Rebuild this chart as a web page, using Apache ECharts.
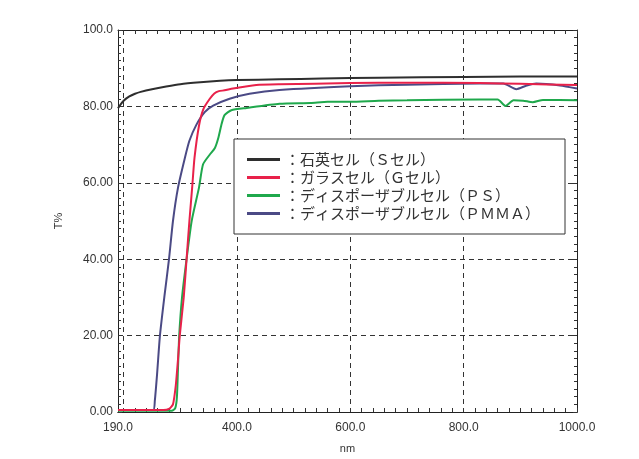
<!DOCTYPE html>
<html>
<head>
<meta charset="utf-8">
<script src="https://cdn.jsdelivr.net/npm/echarts@6/dist/echarts.min.js"></script>
<style>
html,body{margin:0;padding:0;background:#fff;overflow:hidden;}
#c{width:639px;height:459px;}
</style>
</head>
<body>
<div id="c"></div>
<script>
// ---- data (wavelength nm, transmittance %) ----
const seriesNames = ['石英セル（Ｓセル）', 'ガラスセル（Ｇセル）', 'ディスポーザブルセル（ＰＳ）', 'ディスポーザブルセル（ＰＭＭＡ）'];

const quartzNm = [190, 195, 200, 210, 220, 230, 250, 275, 300, 335, 370, 400, 475, 550, 650, 800, 900, 1000];
const quartzT  = [79.5, 80.6, 81.5, 82.6, 83.3, 83.8, 84.5, 85.2, 85.8, 86.3, 86.7, 86.9, 87.1, 87.3, 87.5, 87.7, 87.8, 87.8];

const glassNm = [190, 270, 280, 287, 292, 296, 299, 306, 311, 316, 321, 325, 333, 341, 352, 360, 368, 378, 393, 434, 475, 600, 700, 828, 900, 1000];
const glassT  = [0.5, 0.5, 0.8, 2.0, 7.0, 14.0, 20.0, 30.0, 40.0, 50.0, 59.0, 66.5, 75.0, 79.4, 82.0, 83.4, 84.0, 84.2, 84.7, 85.6, 85.8, 86.1, 86.2, 86.1, 85.9, 85.6];

const psNm = [190, 285, 291, 294, 296, 298, 303, 311, 320, 333, 340, 352, 361, 367, 373, 378, 390, 417, 475, 530, 560, 600, 650, 700, 828, 860, 874, 888, 905, 922, 940, 1000];
const psT  = [0.3, 0.3, 1.0, 4.0, 12.0, 20.0, 30.0, 40.0, 50.0, 58.8, 64.8, 67.4, 69.1, 71.7, 75.5, 77.7, 79.0, 79.6, 80.7, 80.9, 81.2, 81.2, 81.5, 81.6, 81.8, 81.8, 80.1, 81.6, 81.5, 81.1, 81.7, 81.6];

const pmmaNm = [190, 252, 255, 259, 264, 272, 280, 287, 296, 308, 316, 328, 343, 358, 387, 422, 475, 600, 700, 828, 870, 893, 910, 928, 970, 1000];
const pmmaT  = [0.5, 0.5, 3.0, 10.0, 20.0, 30.4, 40.0, 50.0, 58.8, 66.5, 71.0, 75.1, 78.5, 80.2, 82.0, 83.3, 84.3, 85.3, 85.7, 86.0, 86.0, 84.5, 85.4, 86.0, 85.5, 84.7];

const xLabelValues = [190, 400, 600, 800, 1000];
const xGridValues = [200, 400, 600, 800];
const xMinorValues = [];
for (let v = 200; v <= 1000; v += 20) xMinorValues.push(v);

const zip = (a, b) => a.map((v, i) => [v, b[i]]);

const colors = ['#2e2e2e', '#e8214a', '#1fa84c', '#4b4a85'];
const dash = [5, 4];
const font = '"Liberation Sans", Arial, sans-serif';

const chart = echarts.init(document.getElementById('c'), null, {renderer: 'canvas', width: 639, height: 459});

const tickAxisBase = {
  type: 'value', min: 190, max: 1000, gridIndex: 0,
  axisLabel: {show: false}, splitLine: {show: false},
  axisTick: {show: true, inside: true, length: 4, customValues: xMinorValues, lineStyle: {color: '#333'}},
  axisLine: {show: true, lineStyle: {color: '#222', width: 1}}
};

const mkSeries = (i, nm, t, z) => ({
  name: seriesNames[i], type: 'line', xAxisIndex: 0, yAxisIndex: 0,
  data: zip(nm, t), symbol: 'none', showSymbol: false, smooth: 0.2,
  lineStyle: {color: colors[i], width: 2}, itemStyle: {color: colors[i]}, z: z
});

chart.setOption({
  animation: false,
  backgroundColor: '#fff',
  grid: {left: 118, width: 459, top: 30, height: 388, containLabel: false},
  legend: {
    orient: 'vertical', left: 234, top: 139,
    data: seriesNames,
    icon: 'rect', itemWidth: 33, itemHeight: 3,
    backgroundColor: '#fff', borderColor: '#333', borderWidth: 1,
    padding: [12, 25, 12, 13], itemGap: 1,
    formatter: n => '：' + n,
    textStyle: {fontSize: 15, lineHeight: 17, color: '#333', fontFamily: '"Noto Sans CJK JP", sans-serif'},
    z: 20
  },
  xAxis: [
    {
      type: 'value', min: 190, max: 1000, position: 'bottom',
      name: 'nm', nameLocation: 'middle', nameGap: 31,
      nameTextStyle: {fontSize: 11, color: '#333', fontFamily: font},
      axisLine: {show: true, lineStyle: {color: '#222', width: 1}},
      axisTick: {show: false, customValues: xGridValues},
      axisLabel: {customValues: xLabelValues, formatter: v => v.toFixed(1), fontSize: 12, color: '#333', margin: 10, fontFamily: font},
      splitLine: {show: true, lineStyle: {color: '#333', type: dash, width: 1}}
    },
    Object.assign({}, tickAxisBase, {position: 'bottom'}),
    Object.assign({}, tickAxisBase, {position: 'top'})
  ],
  yAxis: [
    {
      type: 'value', min: 0, max: 100, interval: 20, position: 'left',
      name: 'T%', nameLocation: 'middle', nameGap: 54,
      nameTextStyle: {fontSize: 11, color: '#333', fontFamily: font},
      axisLine: {show: true, lineStyle: {color: '#222', width: 1}},
      axisTick: {show: true, inside: true, length: 4, lineStyle: {color: '#333'}},
      minorTick: {show: true, splitNumber: 10, length: 3, lineStyle: {color: '#333'}},
      axisLabel: {formatter: v => (v === 100 ? '100.0' : v.toFixed(2)), fontSize: 12, color: '#333', margin: 5, fontFamily: font},
      splitLine: {show: true, lineStyle: {color: '#333', type: dash, width: 1}}
    },
    {
      type: 'value', min: 0, max: 100, interval: 20, position: 'right',
      axisLine: {show: true, lineStyle: {color: '#222', width: 1}},
      axisTick: {show: true, inside: true, length: 4, lineStyle: {color: '#333'}},
      minorTick: {show: true, splitNumber: 10, length: 3, lineStyle: {color: '#333'}},
      axisLabel: {show: false}, splitLine: {show: false}
    }
  ],
  series: [
    mkSeries(0, quartzNm, quartzT, 2),
    mkSeries(1, glassNm, glassT, 5),
    mkSeries(2, psNm, psT, 3),
    mkSeries(3, pmmaNm, pmmaT, 4)
  ]
});
</script>
</body>
</html>
